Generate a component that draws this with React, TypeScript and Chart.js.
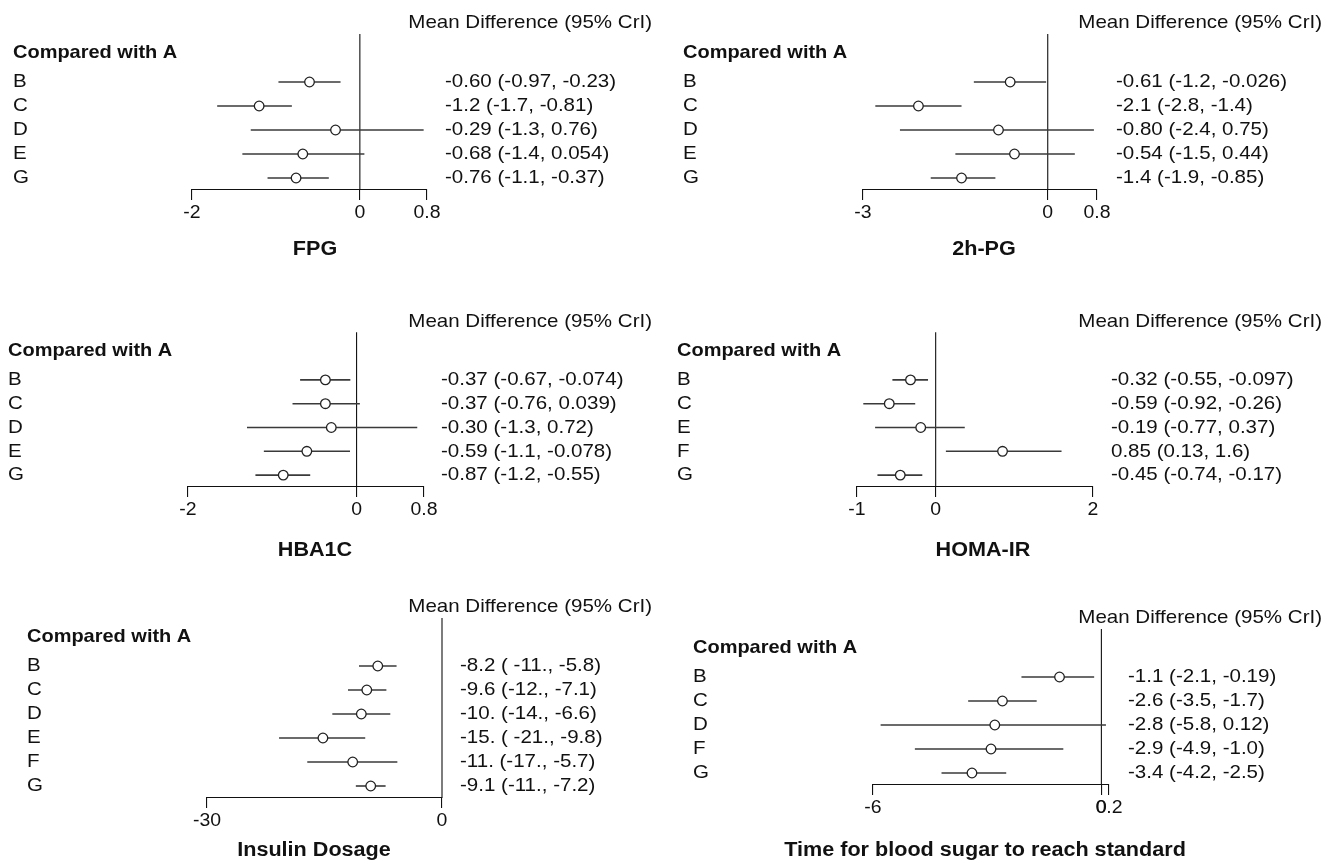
import React, { useEffect, useRef } from "react";
import { Chart, registerables } from "chart.js";

Chart.register(...registerables);

const FONT = '"Liberation Sans", Arial, Helvetica, sans-serif';
const STRETCH = 1.08;
const TICK_LEN = 10;

// ---------- FPG ----------
const fpgRows = ["B", "C", "D", "E", "G"];
const fpgEst = [-0.6, -1.2, -0.29, -0.68, -0.76];
const fpgLow = [-0.97, -1.7, -1.3, -1.4, -1.1];
const fpgHigh = [-0.23, -0.81, 0.76, 0.054, -0.37];
const fpgText = [
  "-0.60 (-0.97, -0.23)",
  "-1.2 (-1.7, -0.81)",
  "-0.29 (-1.3, 0.76)",
  "-0.68 (-1.4, 0.054)",
  "-0.76 (-1.1, -0.37)",
];
const fpgTicks = [-2, 0, 0.8];

// ---------- 2h-PG ----------
const pgRows = ["B", "C", "D", "E", "G"];
const pgEst = [-0.61, -2.1, -0.8, -0.54, -1.4];
const pgLow = [-1.2, -2.8, -2.4, -1.5, -1.9];
const pgHigh = [-0.026, -1.4, 0.75, 0.44, -0.85];
const pgText = [
  "-0.61 (-1.2, -0.026)",
  "-2.1 (-2.8, -1.4)",
  "-0.80 (-2.4, 0.75)",
  "-0.54 (-1.5, 0.44)",
  "-1.4 (-1.9, -0.85)",
];
const pgTicks = [-3, 0, 0.8];

// ---------- HBA1C ----------
const hbaRows = ["B", "C", "D", "E", "G"];
const hbaEst = [-0.37, -0.37, -0.3, -0.59, -0.87];
const hbaLow = [-0.67, -0.76, -1.3, -1.1, -1.2];
const hbaHigh = [-0.074, 0.039, 0.72, -0.078, -0.55];
const hbaText = [
  "-0.37 (-0.67, -0.074)",
  "-0.37 (-0.76, 0.039)",
  "-0.30 (-1.3, 0.72)",
  "-0.59 (-1.1, -0.078)",
  "-0.87 (-1.2, -0.55)",
];
const hbaTicks = [-2, 0, 0.8];

// ---------- HOMA-IR ----------
const homaRows = ["B", "C", "E", "F", "G"];
const homaEst = [-0.32, -0.59, -0.19, 0.85, -0.45];
const homaLow = [-0.55, -0.92, -0.77, 0.13, -0.74];
const homaHigh = [-0.097, -0.26, 0.37, 1.6, -0.17];
const homaText = [
  "-0.32 (-0.55, -0.097)",
  "-0.59 (-0.92, -0.26)",
  "-0.19 (-0.77, 0.37)",
  "0.85 (0.13, 1.6)",
  "-0.45 (-0.74, -0.17)",
];
const homaTicks = [-1, 0, 2];

// ---------- Insulin Dosage ----------
const insRows = ["B", "C", "D", "E", "F", "G"];
const insEst = [-8.2, -9.6, -10.3, -15.2, -11.4, -9.1];
const insLow = [-10.6, -12.0, -14.0, -20.8, -17.2, -11.0];
const insHigh = [-5.8, -7.1, -6.6, -9.8, -5.7, -7.2];
const insText = [
  "-8.2 ( -11., -5.8)",
  "-9.6 (-12., -7.1)",
  "-10. (-14., -6.6)",
  "-15. ( -21., -9.8)",
  "-11. (-17., -5.7)",
  "-9.1 (-11., -7.2)",
];
const insTicks = [-30, 0];

// ---------- Time for blood sugar to reach standard ----------
const timeRows = ["B", "C", "D", "F", "G"];
const timeEst = [-1.1, -2.6, -2.8, -2.9, -3.4];
const timeLow = [-2.1, -3.5, -5.8, -4.9, -4.2];
const timeHigh = [-0.19, -1.7, 0.12, -1.0, -2.5];
const timeText = [
  "-1.1 (-2.1, -0.19)",
  "-2.6 (-3.5, -1.7)",
  "-2.8 (-5.8, 0.12)",
  "-2.9 (-4.9, -1.0)",
  "-3.4 (-4.2, -2.5)",
];
const timeTicks = [-6, 0, 0.2];

type PanelDef = {
  title: string;
  rows: string[];
  est: number[];
  low: number[];
  high: number[];
  text: string[];
  ticks: number[];
  left: number;
  top: number;
  w: number;
  h: number;
  padL: number;
  padR: number;
  padT: number;
  padB: number;
  labelX: number;
  textX: number;
  headRight: number;
  titleX: number;
  titleY: number;
};

const panels: PanelDef[] = [
  { title: "FPG", rows: fpgRows, est: fpgEst, low: fpgLow, high: fpgHigh, text: fpgText, ticks: fpgTicks,
    left: 0, top: 0, w: 660, h: 290, padL: 192, padR: 233, padT: 70, padB: 90,
    labelX: 13, textX: 445, headRight: 652, titleX: 315, titleY: 249 },
  { title: "2h-PG", rows: pgRows, est: pgEst, low: pgLow, high: pgHigh, text: pgText, ticks: pgTicks,
    left: 660, top: 0, w: 667, h: 290, padL: 203, padR: 230, padT: 70, padB: 90,
    labelX: 23, textX: 456, headRight: 662, titleX: 324, titleY: 249 },
  { title: "HBA1C", rows: hbaRows, est: hbaEst, low: hbaLow, high: hbaHigh, text: hbaText, ticks: hbaTicks,
    left: 0, top: 290, w: 660, h: 290, padL: 188, padR: 236, padT: 78, padB: 83,
    labelX: 8, textX: 441, headRight: 652, titleX: 315, titleY: 260 },
  { title: "HOMA-IR", rows: homaRows, est: homaEst, low: homaLow, high: homaHigh, text: homaText, ticks: homaTicks,
    left: 660, top: 290, w: 667, h: 290, padL: 197, padR: 234, padT: 78, padB: 83,
    labelX: 17, textX: 451, headRight: 662, titleX: 323, titleY: 260 },
  { title: "Insulin Dosage", rows: insRows, est: insEst, low: insLow, high: insHigh, text: insText, ticks: insTicks,
    left: 0, top: 580, w: 660, h: 283, padL: 207, padR: 218, padT: 74, padB: 55,
    labelX: 27, textX: 460, headRight: 652, titleX: 314, titleY: 270 },
  { title: "Time for blood sugar to reach standard", rows: timeRows, est: timeEst, low: timeLow, high: timeHigh, text: timeText, ticks: timeTicks,
    left: 660, top: 580, w: 667, h: 283, padL: 213, padR: 218, padT: 85, padB: 68,
    labelX: 33, textX: 468, headRight: 662, titleX: 325, titleY: 270 },
];

function drawText(
  ctx: CanvasRenderingContext2D,
  text: string,
  x: number,
  y: number,
  size: number,
  bold: boolean,
  align: CanvasTextAlign
) {
  ctx.save();
  ctx.font = `${bold ? "bold " : ""}${size}px ${FONT}`;
  ctx.textAlign = align;
  ctx.textBaseline = "middle";
  ctx.fillStyle = "#111";
  ctx.translate(x, y);
  ctx.scale(STRETCH, 1);
  ctx.fillText(text, 0, 0);
  ctx.restore();
}

function ForestPanel({ p }: { p: PanelDef }) {
  const ref = useRef<HTMLCanvasElement | null>(null);

  useEffect(() => {
    if (!ref.current) return;
    const n = p.rows.length;
    const xmin = p.ticks[0];
    const xmax = p.ticks[p.ticks.length - 1];

    const barSets = p.rows.map((r, i) => ({
      label: "CI " + r,
      data: [
        { x: p.low[i], y: i },
        { x: p.high[i], y: i },
      ],
      showLine: true,
      borderColor: "#3a3a3a",
      borderWidth: 1.6,
      pointRadius: 0,
      pointHoverRadius: 0,
      clip: false as any,
      order: 2,
    }));

    const pointSet = {
      label: "Mean difference",
      data: p.est.map((v, i) => ({ x: v, y: i })),
      showLine: false,
      pointStyle: "circle",
      pointRadius: 4.8,
      pointHoverRadius: 4.8,
      pointBackgroundColor: "#ffffff",
      pointBorderColor: "#222",
      pointBorderWidth: 1.3,
      clip: false as any,
      order: 1,
    };

    const textPlugin = {
      id: "forestText",
      beforeDatasetsDraw(chart: any) {
        const ctx = chart.ctx as CanvasRenderingContext2D;
        const xs = chart.scales.x;
        const ys = chart.scales.y;
        const x0 = xs.getPixelForValue(0);
        ctx.save();
        ctx.strokeStyle = "#111";
        ctx.lineWidth = 1.1;
        ctx.beginPath();
        ctx.moveTo(x0, ys.getPixelForValue(-2));
        ctx.lineTo(x0, chart.chartArea.bottom);
        ctx.stroke();
        ctx.restore();
      },
      afterDraw(chart: any) {
        const ctx = chart.ctx as CanvasRenderingContext2D;
        const xs = chart.scales.x;
        const ys = chart.scales.y;
        const area = chart.chartArea;
        drawText(ctx, "Mean Difference (95% CrI)", p.headRight, ys.getPixelForValue(-2.45), 19, false, "right");
        drawText(ctx, "Compared with A", p.labelX, ys.getPixelForValue(-1.2), 18.5, true, "left");
        p.rows.forEach((r, i) => {
          const y = ys.getPixelForValue(i);
          drawText(ctx, r, p.labelX, y, 19, false, "left");
          drawText(ctx, p.text[i], p.textX, y, 19, false, "left");
        });
        p.ticks.forEach((t) => {
          drawText(ctx, String(t), xs.getPixelForValue(t), area.bottom + 23, 18, false, "center");
        });
        drawText(ctx, p.title, p.titleX, p.titleY, 20, true, "center");
      },
    };

    const chart = new Chart(ref.current, {
      type: "scatter",
      data: { datasets: [pointSet as any, ...(barSets as any[])] },
      options: {
        animation: false,
        responsive: false,
        events: [],
        layout: { padding: { left: p.padL, right: p.padR, top: p.padT, bottom: p.padB } },
        plugins: { legend: { display: false }, tooltip: { enabled: false } },
        scales: {
          x: {
            type: "linear",
            min: xmin,
            max: xmax,
            afterBuildTicks: (s: any) => {
              s.ticks = p.ticks.map((v) => ({ value: v }));
            },
            ticks: { display: false, autoSkip: false },
            grid: {
              display: true,
              drawOnChartArea: false,
              drawTicks: true,
              tickLength: TICK_LEN,
              color: "#111",
              lineWidth: 1.1,
            },
            border: { display: true, color: "#111", width: 1.1 },
          },
          y: {
            type: "linear",
            min: -0.5,
            max: n - 0.5,
            reverse: true,
            display: false,
          },
        },
      },
      plugins: [textPlugin],
    });
    return () => chart.destroy();
  }, [p]);

  return (
    <canvas
      ref={ref}
      width={p.w}
      height={p.h}
      style={{ position: "absolute", left: p.left, top: p.top, width: p.w, height: p.h }}
    />
  );
}

export default function App() {
  return (
    <div style={{ position: "absolute", left: 0, top: 0, width: 1327, height: 863, background: "#fff" }}>
      {panels.map((p) => (
        <ForestPanel key={p.title} p={p} />
      ))}
    </div>
  );
}
